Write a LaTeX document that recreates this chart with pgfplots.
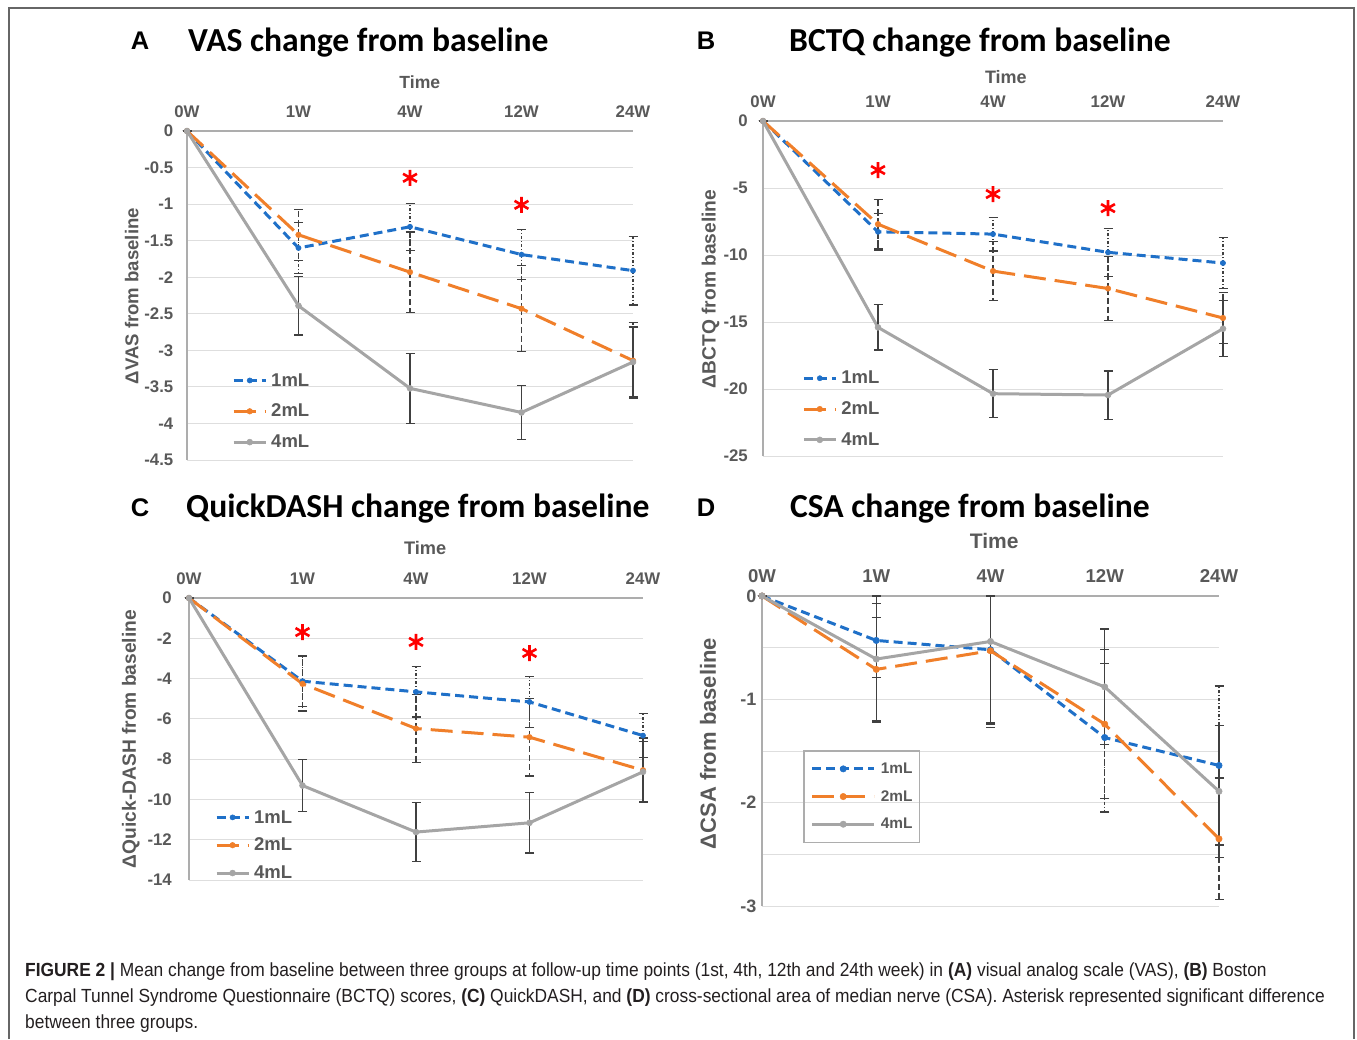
\documentclass[border=0pt]{standalone}
\usepackage{fontspec}
\setmainfont{Liberation Sans}
\newfontfamily\calfont{Carlito}
\newfontfamily\capfont[FakeStretch=0.915]{Liberation Sans}
\usepackage{pgfplots}
\pgfplotsset{compat=1.18}

\definecolor{c1}{HTML}{1F70C8}
\definecolor{c2}{HTML}{F07F2A}
\definecolor{c3}{HTML}{A5A5A5}
\definecolor{ebc}{HTML}{404040}
\definecolor{gridc}{HTML}{DEDEDE}
\definecolor{axgray}{HTML}{ADADAD}
\definecolor{txt}{HTML}{595959}
\definecolor{captxt}{HTML}{231F20}

\newcommand{\fs}[1]{\fontsize{#1}{#1}\selectfont}

\pgfplotsset{
  panel/.style={
    scale only axis, anchor=north west,
    xmin=0, xmax=4, xtick={0,1,2,3,4}, xticklabels={0W,1W,4W,12W,24W},
    axis x line=top, axis y line=left,
    axis line style={-, draw=axgray, line width=2pt},
    major tick length=0pt, minor tick length=0pt,
    ymajorgrids, grid style={draw=gridc, line width=1pt},
    clip=false,
    xticklabel style={font=\bfseries\fs{16.8}, text=txt, anchor=south, inner sep=0pt, yshift=13.5pt},
    yticklabel style={font=\bfseries\fs{16.8}, text=txt, anchor=east, inner sep=0pt, xshift=-13.5pt},
    legend cell align=left,
    legend style={anchor=north west, draw=none, fill=none, inner sep=0pt,
      row sep=16.5pt, column sep=4pt, font=\bfseries\fs{18.5}, text=txt,
      nodes={inner sep=0pt}},
    legend image code/.code={\draw[mark repeat=2,mark phase=2,##1] plot coordinates {(0pt,0pt) (16pt,0pt) (32pt,0pt)};},
  },
  s1/.style={c1, line width=3pt, dash pattern=on 9pt off 5pt, mark=*, mark size=2.6pt, mark options={solid, fill=c1, draw=c1, line width=0.5pt}},
  s2/.style={c2, line width=3pt, dash pattern=on 22pt off 9pt, mark=*, mark size=2.8pt, mark options={solid, fill=c2, draw=c2, line width=0.5pt}},
  s3/.style={c3, line width=3pt, solid, mark=*, mark size=3pt, mark options={solid, fill=c3, draw=c3, line width=0.5pt}},
  eb/.style={error bars/y dir=both, error bars/y explicit,
    error bars/error bar style={draw=ebc, line width=1.3pt, #1},
    error bars/error mark options={draw=ebc, line width=1.3pt, mark size=4.5pt, solid, rotate=90}},
  star/.style={forget plot, only marks, mark=asterisk, mark size=8pt, red, line width=2.6pt},
}

\begin{document}
\begin{tikzpicture}
\path[use as bounding box] (0pt,0pt) rectangle (1357pt,-1039pt);
\draw[draw=black!60, line width=1.5pt] (9pt,-1039pt) -- (9pt,-8pt) -- (1354pt,-8pt) -- (1354pt,-1039pt);

% panel titles
\node[anchor=base, font=\bfseries\fs{25.5}, inner sep=0pt] at (140pt,-49pt) {A};
\node[anchor=base west, font=\calfont\bfseries\fs{33.6}, inner sep=0pt] at (188pt,-51.5pt) {VAS change from baseline};
\node[anchor=base, font=\bfseries\fs{25.5}, inner sep=0pt] at (706pt,-49pt) {B};
\node[anchor=base west, font=\calfont\bfseries\fs{33.6}, inner sep=0pt] at (789pt,-51pt) {BCTQ change from baseline};
\node[anchor=base, font=\bfseries\fs{25.5}, inner sep=0pt] at (140pt,-516.5pt) {C};
\node[anchor=base west, font=\calfont\bfseries\fs{33.6}, inner sep=0pt] at (186pt,-517pt) {QuickDASH change from baseline};
\node[anchor=base, font=\bfseries\fs{25.5}, inner sep=0pt] at (706pt,-516.5pt) {D};
\node[anchor=base west, font=\calfont\bfseries\fs{33.6}, inner sep=0pt] at (790pt,-517pt) {CSA change from baseline};

% A: VAS
\begin{axis}[panel, at={(187pt,-131pt)}, width=446pt, height=329pt,
  ymin=-4.5, ymax=0,
  ytick={-4.5,-4,-3.5,-3,-2.5,-2,-1.5,-1,-0.5,0},
  yticklabels={-4.5,-4,-3.5,-3,-2.5,-2,-1.5,-1,-0.5,0},
  xlabel={Time}, ylabel={ΔVAS from baseline},
  xlabel style={at={(axis description cs:0.522,1.149)}, anchor=center, font=\bfseries\fs{17.6}, text=txt},
  ylabel style={at={(axis description cs:-0.124,0.498)}, anchor=center, font=\bfseries\fs{18.6}, text=txt},
  legend style={at={(axis description cs:0.101,0.264)}}]
\addplot[s1, eb={dash pattern=on 3pt off 2pt on 1pt off 2pt}] coordinates {
 (0,0) +- (0,0) (1,-1.60) +- (0,0.35) (2,-1.31) +- (0,0.32) (3,-1.69) +- (0,0.34) (4,-1.91) +- (0,0.47)};
\addlegendentry{1mL}
\addplot[s2, eb={dash pattern=on 6pt off 3pt}] coordinates {
 (0,0) +- (0,0) (1,-1.42) +- (0,0.35) (2,-1.93) +- (0,0.55) (3,-2.43) +- (0,0.59) (4,-3.14) +- (0,0.52)};
\addlegendentry{2mL}
\addplot[s3, eb={solid}] coordinates {
 (0,0) +- (0,0) (1,-2.39) +- (0,0.40) (2,-3.52) +- (0,0.48) (3,-3.85) +- (0,0.37) (4,-3.16) +- (0,0.48)};
\addlegendentry{4mL}
\addplot[star] coordinates {(2,-0.64) (3,-1.01)};
\end{axis}

% B: BCTQ
\begin{axis}[panel, at={(763pt,-121pt)}, width=460pt, height=335pt,
  ymin=-25, ymax=0,
  ytick={-25,-20,-15,-10,-5,0},
  yticklabels={-25,-20,-15,-10,-5,0},
  yticklabel style={xshift=-1.5pt},
  xlabel={Time}, ylabel={ΔBCTQ from baseline},
  xlabel style={at={(axis description cs:0.528,1.131)}, anchor=center, font=\bfseries\fs{18}, text=txt},
  ylabel style={at={(axis description cs:-0.114,0.499)}, anchor=center, font=\bfseries\fs{19.2}, text=txt},
  legend style={at={(axis description cs:0.085,0.254)}}]
\addplot[s1, eb={dash pattern=on 3pt off 2pt on 1pt off 2pt}] coordinates {
 (0,0) +- (0,0) (1,-8.27) +- (0,1.35) (2,-8.44) +- (0,1.25) (3,-9.80) +- (0,1.80) (4,-10.60) +- (0,1.90)};
\addlegendentry{1mL}
\addplot[s2, eb={dash pattern=on 6pt off 3pt}] coordinates {
 (0,0) +- (0,0) (1,-7.70) +- (0,1.85) (2,-11.20) +- (0,2.20) (3,-12.50) +- (0,2.40) (4,-14.70) +- (0,1.90)};
\addlegendentry{2mL}
\addplot[s3, eb={solid}] coordinates {
 (0,0) +- (0,0) (1,-15.40) +- (0,1.70) (2,-20.35) +- (0,1.80) (3,-20.45) +- (0,1.80) (4,-15.50) +- (0,2.10)};
\addlegendentry{4mL}
\addplot[star] coordinates {(1,-3.66) (2,-5.45) (3,-6.50)};
\end{axis}

% C: QuickDASH
\begin{axis}[panel, at={(189pt,-598pt)}, width=454pt, height=282pt,
  ymin=-14, ymax=0,
  ytick={-14,-12,-10,-8,-6,-4,-2,0},
  yticklabels={-14,-12,-10,-8,-6,-4,-2,0},
  yticklabel style={xshift=-3.5pt},
  xlabel={Time}, ylabel={ΔQuick-DASH from baseline},
  xlabel style={at={(axis description cs:0.520,1.177)}, anchor=center, font=\bfseries\fs{18.2}, text=txt},
  ylabel style={at={(axis description cs:-0.128,0.5)}, anchor=center, font=\bfseries\fs{19.2}, text=txt},
  legend style={at={(axis description cs:0.057,0.248)}, row sep=13.5pt}]
\addplot[s1, eb={dash pattern=on 3pt off 2pt on 1pt off 2pt}] coordinates {
 (0,0) +- (0,0) (1,-4.13) +- (0,1.25) (2,-4.66) +- (0,1.25) (3,-5.16) +- (0,1.28) (4,-6.83) +- (0,1.10)};
\addlegendentry{1mL}
\addplot[s2, eb={dash pattern=on 6pt off 3pt}] coordinates {
 (0,0) +- (0,0) (1,-4.26) +- (0,1.35) (2,-6.48) +- (0,1.70) (3,-6.91) +- (0,1.93) (4,-8.55) +- (0,1.60)};
\addlegendentry{2mL}
\addplot[s3, eb={solid}] coordinates {
 (0,0) +- (0,0) (1,-9.31) +- (0,1.30) (2,-11.62) +- (0,1.47) (3,-11.16) +- (0,1.50) (4,-8.63) +- (0,1.50)};
\addlegendentry{4mL}
\addplot[star] coordinates {(1,-1.69) (2,-2.18) (3,-2.73)};
\end{axis}

% D: CSA
\begin{axis}[panel, at={(762pt,-596pt)}, width=457pt, height=310pt,
  ymin=-3, ymax=0,
  ytick={-3,-2,-1,0}, yticklabels={-3,-2,-1,0},
  minor ytick={-2.5,-1.5,-0.5}, yminorgrids, minor grid style={draw=gridc, line width=1pt},
  xticklabel style={font=\bfseries\fs{18.6}},
  yticklabel style={font=\bfseries\fs{18}, xshift=8pt},
  xlabel={Time}, ylabel={ΔCSA from baseline},
  xlabel style={at={(axis description cs:0.508,1.177)}, anchor=center, font=\bfseries\fs{21}, text=txt},
  ylabel style={at={(axis description cs:-0.118,0.524)}, anchor=center, font=\bfseries\fs{22}, text=txt},
  legend style={at={(axis description cs:0.0897,0.503)}, draw=axgray, line width=1.5pt,
    inner xsep=7pt, inner ysep=12pt, row sep=15.5pt, column sep=5pt, font=\bfseries\fs{15.4}},
  legend image code/.code={\draw[mark repeat=2,mark phase=2,#1] plot coordinates {(0pt,0pt) (31pt,0pt) (62pt,0pt)};}]
\addplot[s1, mark size=3.2pt, eb={dash pattern=on 3pt off 2pt on 1pt off 2pt}] coordinates {
 (0,0) +- (0,0) (1,-0.43) +- (0,0.36) (2,-0.52) += (0,0.52) -= (0,0.75) (3,-1.37) +- (0,0.72) (4,-1.64) +- (0,0.77)};
\addlegendentry{1mL}
\addplot[s2, mark size=3.2pt, eb={dash pattern=on 6pt off 3pt}] coordinates {
 (0,0) +- (0,0) (1,-0.71) +- (0,0.50) (2,-0.53) += (0,0.53) -= (0,0.70) (3,-1.24) +- (0,0.72) (4,-2.35) +- (0,0.59)};
\addlegendentry{2mL}
\addplot[s3, mark size=3.2pt, eb={solid}] coordinates {
 (0,0) +- (0,0) (1,-0.61) +- (0,0.61) (2,-0.44) += (0,0.44) -= (0,0.80) (3,-0.88) +- (0,0.56) (4,-1.89) +- (0,0.64)};
\addlegendentry{4mL}
\end{axis}

% caption
\node[anchor=base west, inner sep=0pt, font=\capfont\fs{19}, text=captxt] at (25pt,-976pt)
 {\textbf{FIGURE 2 |} Mean change from baseline between three groups at follow-up time points (1st, 4th, 12th and 24th week) in \textbf{(A)} visual analog scale (VAS), \textbf{(B)} Boston};
\node[anchor=base west, inner sep=0pt, font=\capfont\fs{19}, text=captxt] at (25pt,-1002pt)
 {Carpal Tunnel Syndrome Questionnaire (BCTQ) scores, \textbf{(C)} QuickDASH, and \textbf{(D)} cross-sectional area of median nerve (CSA). Asterisk represented significant difference};
\node[anchor=base west, inner sep=0pt, font=\capfont\fs{19}, text=captxt] at (25pt,-1028pt)
 {between three groups.};
\end{tikzpicture}
\end{document}
